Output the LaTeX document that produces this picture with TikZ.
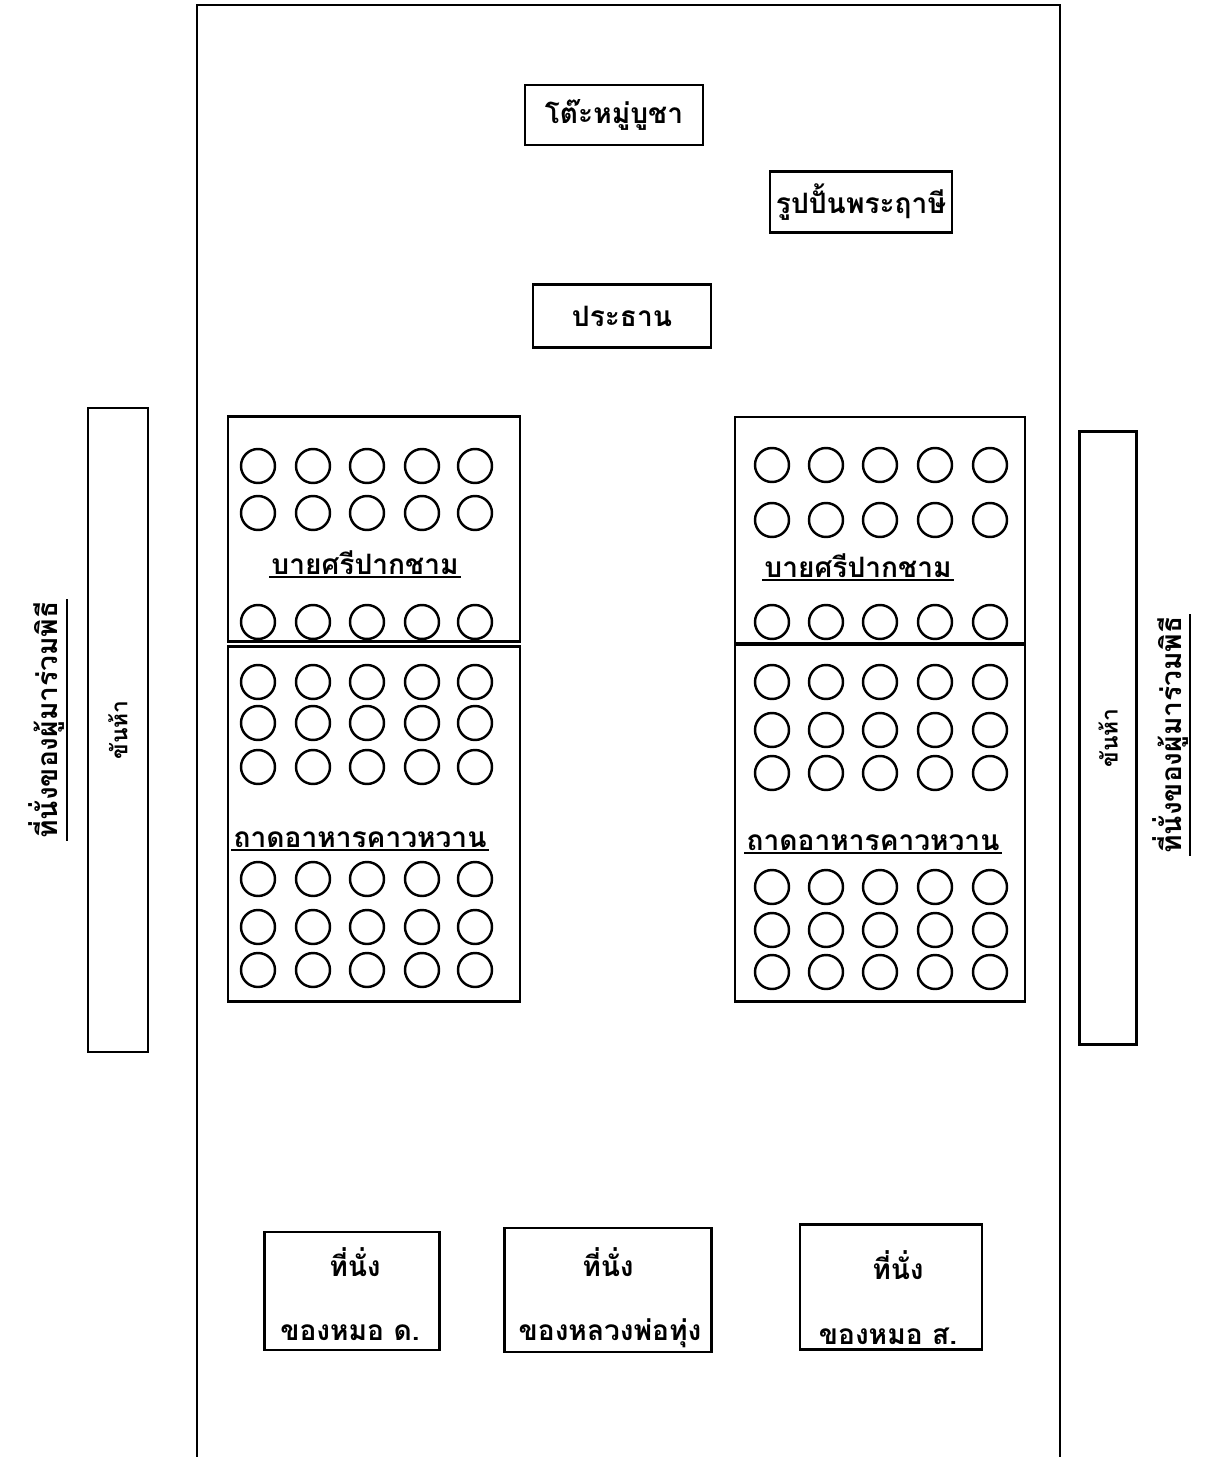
\documentclass[tikz,border=0pt]{standalone}
\usepackage{fontspec}
\newfontfamily\thaifont[Script=Thai]{Loma}
\usepackage{tikz}

\begin{document}
\begin{tikzpicture}[x=0.02cm, y=-0.02cm,
    box/.style={draw, line width=1.4pt, inner sep=0pt},
    lbl/.style={font=\thaifont\bfseries\fontsize{16}{18}\selectfont, inner sep=1pt},
    small/.style={font=\thaifont\bfseries\fontsize{13}{15}\selectfont, inner sep=1pt},
    dish/.style={line width=1.4pt}]
    \useasboundingbox (0,0) rectangle (1213,1457);
    % hall walls
    \draw[line width=1.4pt] (197,1457) -- (197,5) -- (1060,5) -- (1060,1457);
    % front
    \node[box, lbl, minimum width=3.56cm, minimum height=1.2cm] (altar) at (614,115) {โต๊ะหมู่บูชา};
    \node[box, lbl, minimum width=3.64cm, minimum height=1.22cm] (hermit) at (861,202) {รูปปั้นพระฤาษี};
    \node[box, lbl, minimum width=3.56cm, minimum height=1.26cm] (chair) at (622,316) {ประธาน};
    % trays
    \node[box, minimum width=5.84cm, minimum height=4.5cm] (trayLa) at (374,529) {};
    \node[box, minimum width=5.84cm, minimum height=7.1cm] (trayLb) at (374,824) {};
    \node[box, minimum width=5.8cm, minimum height=4.52cm] (trayRa) at (880,530) {};
    \node[box, minimum width=5.8cm, minimum height=7.14cm] (trayRb) at (880,823) {};
    \foreach \x in {258,313,367,422,475}
        \foreach \y in {466,513,622,682,723,767,879,927,970}
            \draw[dish] (\x,\y) circle (17);
    \foreach \x in {772,826,880,935,990}
        \foreach \y in {465,520,622,682,730,773,887,930,972}
            \draw[dish] (\x,\y) circle (17);
    \node[lbl] (bayL) at (365,563) {บายศรีปากชาม};
    \node[lbl] (bayR) at (858,566) {บายศรีปากชาม};
    \node[lbl] (foodL) at (360,840) {ถาดอาหารคาวหวาน};
    \node[lbl] (foodR) at (873,843) {ถาดอาหารคาวหวาน};
    \foreach \n in {bayL,bayR,foodL,foodR}
        \draw[line width=1.4pt] (\n.south west) -- (\n.south east);
    % side tables
    \node[box, minimum width=1.2cm, minimum height=12.88cm] (khanL) at (118,730) {};
    \node[box, minimum width=1.14cm, minimum height=12.26cm] (khanR) at (1108,738) {};
    \node[small, rotate=90] at (khanL) {ขันห้า};
    \node[small, rotate=90] at (khanR) {ขันห้า};
    \node[lbl, rotate=90] (guestL) at (47,720) {ที่นั่งของผู้มาร่วมพิธี};
    \node[lbl, rotate=90] (guestR) at (1170,735) {ที่นั่งของผู้มาร่วมพิธี};
    \foreach \n in {guestL,guestR}
        \draw[line width=1.4pt] (\n.south west) -- (\n.south east);
    % seats
    \node[box, minimum width=3.5cm, minimum height=2.36cm] (seatD) at (352,1291) {};
    \node[box, minimum width=4.14cm, minimum height=2.48cm] (seatT) at (608,1290) {};
    \node[box, minimum width=3.64cm, minimum height=2.5cm] (seatS) at (891,1287) {};
    \node[lbl] at (355,1262) {ที่นั่ง};
    \node[lbl] at (350,1333) {ของหมอ ด.};
    \node[lbl] at (608,1262) {ที่นั่ง};
    \node[lbl] at (610,1333) {ของหลวงพ่อทุ่ง};
    \node[lbl] at (898,1265) {ที่นั่ง};
    \node[lbl] at (888,1336) {ของหมอ ส.};
\end{tikzpicture}
\end{document}
